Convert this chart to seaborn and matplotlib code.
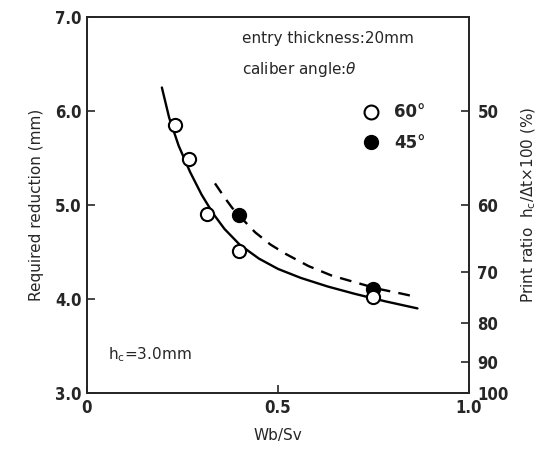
import matplotlib
matplotlib.use("Agg")
import matplotlib.pyplot as plt
import seaborn as sns
import pandas as pd
from matplotlib.lines import Line2D

# ---- data ----
pts60_x = [0.230, 0.267, 0.315, 0.398, 0.749]
pts60_y = [5.85, 5.49, 4.90, 4.51, 4.02]
pts45_x = [0.398, 0.748]
pts45_y = [4.89, 4.11]

curve60_x = [0.196, 0.215, 0.24, 0.27, 0.30, 0.33, 0.36, 0.40, 0.45, 0.50, 0.56, 0.63, 0.70, 0.78, 0.865]
curve60_y = [6.25, 5.93, 5.63, 5.35, 5.11, 4.91, 4.745, 4.577, 4.43, 4.32, 4.224, 4.133, 4.056, 3.976, 3.90]
curve45_x = [0.335, 0.36, 0.38, 0.40, 0.44, 0.48, 0.52, 0.58, 0.64, 0.70, 0.76, 0.82, 0.865]
curve45_y = [5.23, 5.08, 4.97, 4.88, 4.71, 4.58, 4.48, 4.35, 4.25, 4.18, 4.11, 4.06, 4.02]

xticks = [0, 0.5, 1.0]
xtick_labels = ["0", "0.5", "1.0"]
yticks = [3.0, 4.0, 5.0, 6.0, 7.0]
ytick_labels = ["3.0", "4.0", "5.0", "6.0", "7.0"]
print_ratio_ticks = [50, 60, 70, 80, 90, 100]
hc = 3.0

sns.set_style("ticks")
plt.rcParams["font.family"] = ["DejaVu Sans"]

fig = plt.figure(figsize=(5.43, 4.49), dpi=100)
ax = fig.add_axes([87/543, 1-393/449, (469-87)/543, (393-17)/449])

df60 = pd.DataFrame({"x": curve60_x, "y": curve60_y})
df45 = pd.DataFrame({"x": curve45_x, "y": curve45_y})
sns.lineplot(data=df60, x="x", y="y", ax=ax, color="black", lw=1.7, sort=False)
sns.lineplot(data=df45, x="x", y="y", ax=ax, color="black", lw=1.7, sort=False,
             linestyle=(0, (5, 3.5)))
sns.scatterplot(x=pts60_x, y=pts60_y, ax=ax, marker="o", s=90, facecolor="white",
                edgecolor="black", linewidth=1.5, zorder=5)
sns.scatterplot(x=pts45_x, y=pts45_y, ax=ax, marker="o", s=90, color="black",
                edgecolor="black", linewidth=1.5, zorder=4)

ax.set_xlim(0, 1.0)
ax.set_ylim(3.0, 7.0)
tickfont = dict(fontsize=12, fontweight="bold", fontstretch="condensed")
ax.set_xticks(xticks)
ax.set_xticklabels(xtick_labels, **tickfont)
ax.set_yticks(yticks)
ax.set_yticklabels(ytick_labels, **tickfont)
ax.tick_params(direction="in", length=6, width=1.2, pad=4)
for sp in ax.spines.values():
    sp.set_linewidth(1.3)
    sp.set_visible(True)
ax.set_xlabel("Wb/Sv", fontsize=11, labelpad=8)
ax.set_ylabel("Required reduction (mm)", fontsize=11, labelpad=8)

ax2 = ax.twinx()
ax2.set_ylim(3.0, 7.0)
ax2.set_yticks([hc * 100 / p for p in print_ratio_ticks])
ax2.set_yticklabels([str(p) for p in print_ratio_ticks], **tickfont)
ax2.tick_params(direction="in", length=6, width=1.2, pad=6)
for sp in ax2.spines.values():
    sp.set_linewidth(1.3)
ax2.set_ylabel(r"Print ratio  h$_\mathregular{c}$/$\mathit{\Delta}$t$\times$100 (%)",
               fontsize=11, labelpad=8)

ax.text(0.405, 6.72, "entry thickness:20mm", fontsize=11)
ax.text(0.405, 6.39, r"caliber angle:$\theta$", fontsize=11)
ax.text(0.055, 3.36, r"h$_\mathregular{c}$=3.0mm", fontsize=11)

handles = [Line2D([], [], marker="o", ls="none", markersize=10, markerfacecolor="white",
                  markeredgecolor="black", markeredgewidth=1.5),
           Line2D([], [], marker="o", ls="none", markersize=10, markerfacecolor="black",
                  markeredgecolor="black")]
leg = ax.legend(handles, ["60°", "45°"], loc="upper left", bbox_to_anchor=(0.66, 0.81),
                frameon=False, handletextpad=0.4, labelspacing=0.75,
                prop=dict(size=12, weight="bold"))

fig.savefig("out.png", dpi=100)
